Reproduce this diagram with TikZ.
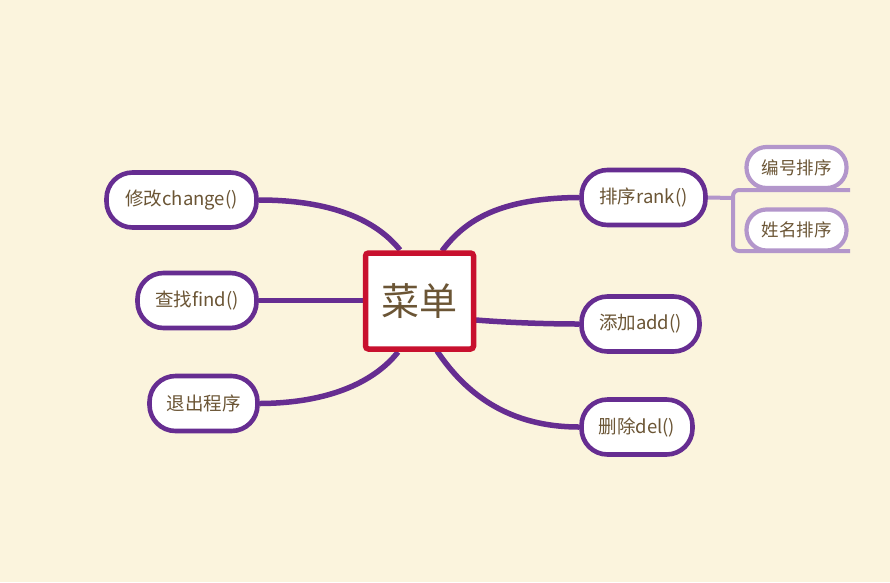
\documentclass[tikz,border=0pt]{standalone}
\usepackage{fontspec}
\setmainfont{Noto Sans CJK SC}
\definecolor{bg}{HTML}{FBF4DD}
\definecolor{purp}{HTML}{662D91}
\definecolor{lpurp}{HTML}{B396CB}
\definecolor{redb}{HTML}{C8102E}
\definecolor{txt}{HTML}{6B5535}
\pgfdeclarelayer{back}
\pgfsetlayers{back,main}
\begin{document}
\begin{tikzpicture}[x=1pt,y=-1pt,
  pill/.style={draw=purp,line width=4.6pt,fill=white,rounded corners=26pt,minimum height=55pt,inner xsep=10pt,font=\fontsize{18.5}{22}\selectfont,text=txt},
  spill/.style={draw=lpurp,line width=4.2pt,fill=white,rounded corners=20pt,minimum height=41pt,minimum width=100pt,font=\fontsize{17.5}{20}\selectfont,text=txt},
  conn/.style={draw=purp,line width=5.5pt},
  sconn/.style={draw=lpurp,line width=4pt}]
\begin{pgfonlayer}{back}
\fill[bg] (0,0) rectangle (890,582);
\end{pgfonlayer}
\useasboundingbox (0,0) rectangle (890,582);
\coordinate (c1) at (400,250);
\coordinate (c2) at (363,300.5);
\coordinate (c3) at (398,352);
\coordinate (c4) at (442,251);
\coordinate (c5) at (476,320);
\coordinate (c6) at (437,351);
\node[pill,minimum width=150pt] (change) at (181.5,200) {修改change()};
\node[pill,minimum width=119pt] (find) at (197,300.5) {查找find()};
\node[pill,minimum width=108pt] (quit) at (203.5,403.5) {退出程序};
\node[pill,minimum width=124pt] (rank) at (643.5,197.5) {排序rank()};
\node[pill,minimum width=118pt] (add) at (640.5,324) {添加add()};
\node[pill,minimum width=111pt] (del) at (637,427) {删除del()};
\begin{pgfonlayer}{back}
\draw[conn] (change.east) .. controls (340,200) and (380,225) .. (c1);
\draw[conn] (find.east) -- (c2);
\draw[conn] (quit.east) .. controls (340,403) and (380,375) .. (c3);
\draw[conn] (rank.west) .. controls (500,198) and (465,220) .. (c4);
\draw[conn] (add.west) .. controls (540,324) and (500,322) .. (c5);
\draw[conn] (del.west) .. controls (500,427) and (460,385) .. (c6);
\end{pgfonlayer}
% center
\node[draw=redb,line width=5.5pt,fill=white,rounded corners=3pt,minimum width=108pt,minimum height=96pt,font=\fontsize{38}{42}\selectfont,text=txt] (menu) at (419.5,301) {菜单};
% sub branch
\node[spill] (num) at (796.5,167.5) {编号排序};
\node[spill] (name) at (796.5,230) {姓名排序};
\coordinate (j) at (733,198);
\coordinate (t) at (850,190);
\coordinate (b) at (850,251);
\coordinate (tl) at (760,190);
\draw[sconn] (rank.east) -- (j);
\draw[sconn,rounded corners=6pt] (t) -- (733,190) -- (733,251) -- (b);
\draw[sconn] (tl) -- (t);
\end{tikzpicture}
\end{document}
